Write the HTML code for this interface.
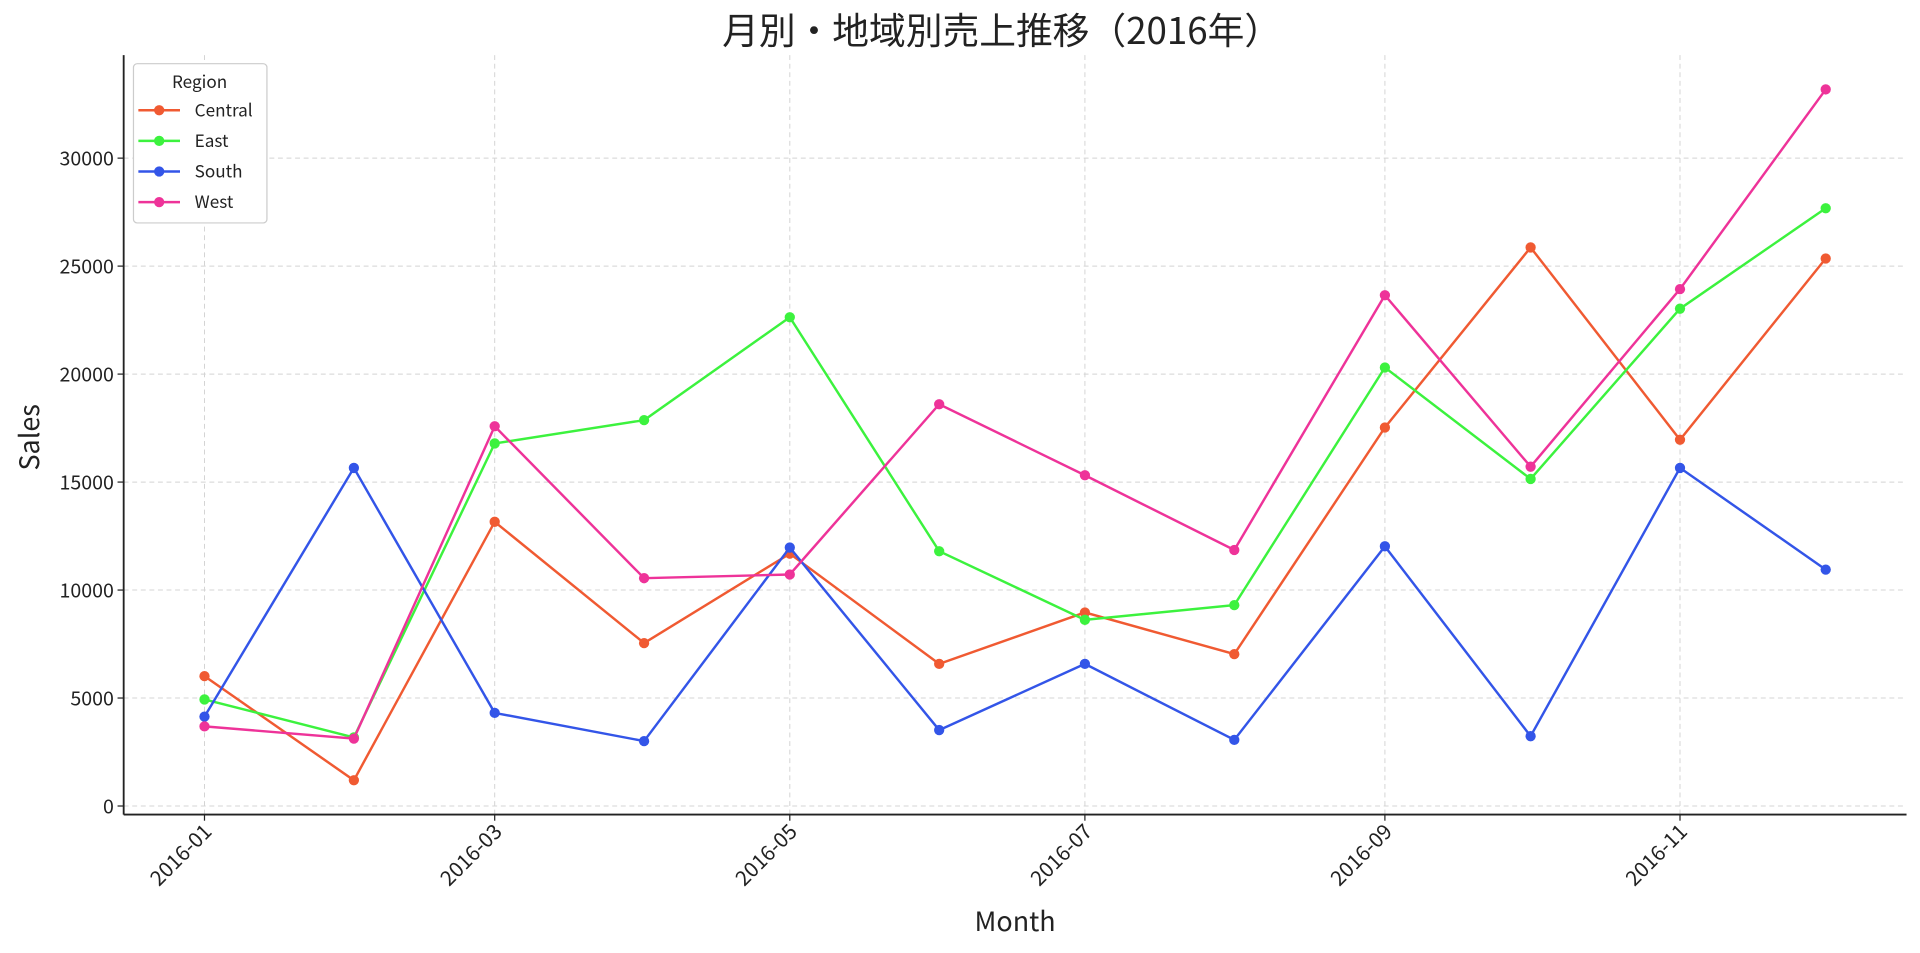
<!DOCTYPE html>
<html><head><meta charset="utf-8"><style>
html,body{margin:0;padding:0;background:#fff;}
svg{display:block;}
text{font-family:"Noto Sans CJK JP","Liberation Sans",sans-serif;fill:#222;}
</style></head><body>
<svg id="s" width="1920" height="953" viewBox="0 0 1568 778" preserveAspectRatio="none" xmlns="http://www.w3.org/2000/svg">
<text x="818" y="36" font-size="30" text-anchor="middle">月別・地域別売上推移（2016年）</text>
<g id="grid" stroke="#d4d4d4" stroke-width="0.8" stroke-dasharray="4,3"></g>
<g id="ticks"></g>
<line x1="101" y1="45" x2="101" y2="665" stroke="#222" stroke-width="1.5"/>
<line x1="101" y1="665" x2="1557" y2="665" stroke="#222" stroke-width="1.5"/>
<g id="series"></g>
<text x="829" y="760" font-size="22" text-anchor="middle">Month</text>
<text transform="translate(32,357) rotate(-90)" font-size="22" text-anchor="middle">Sales</text>
<g id="legend">
<rect x="109" y="52" width="109" height="130" rx="3" fill="#fff" stroke="#ccc"/>
<text x="163" y="72" font-size="14" text-anchor="middle">Region</text>
</g>
</svg>
<script>
const NS="http://www.w3.org/2000/svg";
function el(p,t,a,txt){const e=document.createElementNS(NS,t);for(const k in a)e.setAttribute(k,a[k]);if(txt)e.textContent=txt;document.getElementById(p).appendChild(e);return e;}
const xs=[167,289,404,526,645,767,886,1008,1131,1250,1372,1491];
const yv=v=>658-v*0.01763;
for(let i=0;i<=6;i++){const y=yv(i*5000);el('grid','line',{x1:101,x2:1557,y1:y,y2:y});
el('ticks','line',{x1:96,x2:101,y1:y,y2:y,stroke:'#222'});
el('ticks','text',{x:93,y:y+6,'font-size':16,'text-anchor':'end'},String(i*5000));}
const lab=['2016-01','2016-03','2016-05','2016-07','2016-09','2016-11'];
for(let i=0;i<6;i++){const x=xs[i*2];el('grid','line',{x1:x,x2:x,y1:45,y2:665});
el('ticks','line',{x1:x,x2:x,y1:665,y2:670,stroke:'#222'});
el('ticks','text',{transform:`translate(${x+7},${680}) rotate(-45)`,'font-size':17,'text-anchor':'end'},lab[i]);}
const S=[
['Central','#f05a32',[552,637,426,525,452,542,500,534,349,202,359,211]],
['East','#3cf23e',[571,602,362,343,259,450,506,494,300,391,252,170]],
['South','#3355e8',[585,382,582,605,447,596,542,604,446,601,382,465]],
['West','#ee3399',[593,603,348,472,469,330,388,449,241,381,236,73]]];
S.forEach((s,k)=>{
el('series','polyline',{points:s[2].map((y,i)=>xs[i]+','+y).join(' '),fill:'none',stroke:s[1],'stroke-width':2});
s[2].forEach((y,i)=>el('series','circle',{cx:xs[i],cy:y,r:4.2,fill:s[1]}));
const ly=90+k*25;
el('legend','line',{x1:113,x2:147,y1:ly,y2:ly,stroke:s[1],'stroke-width':2});
el('legend','circle',{cx:130,cy:ly,r:4.2,fill:s[1]});
el('legend','text',{x:159,y:ly+5,'font-size':14},s[0]);
});
</script>
</body></html>
